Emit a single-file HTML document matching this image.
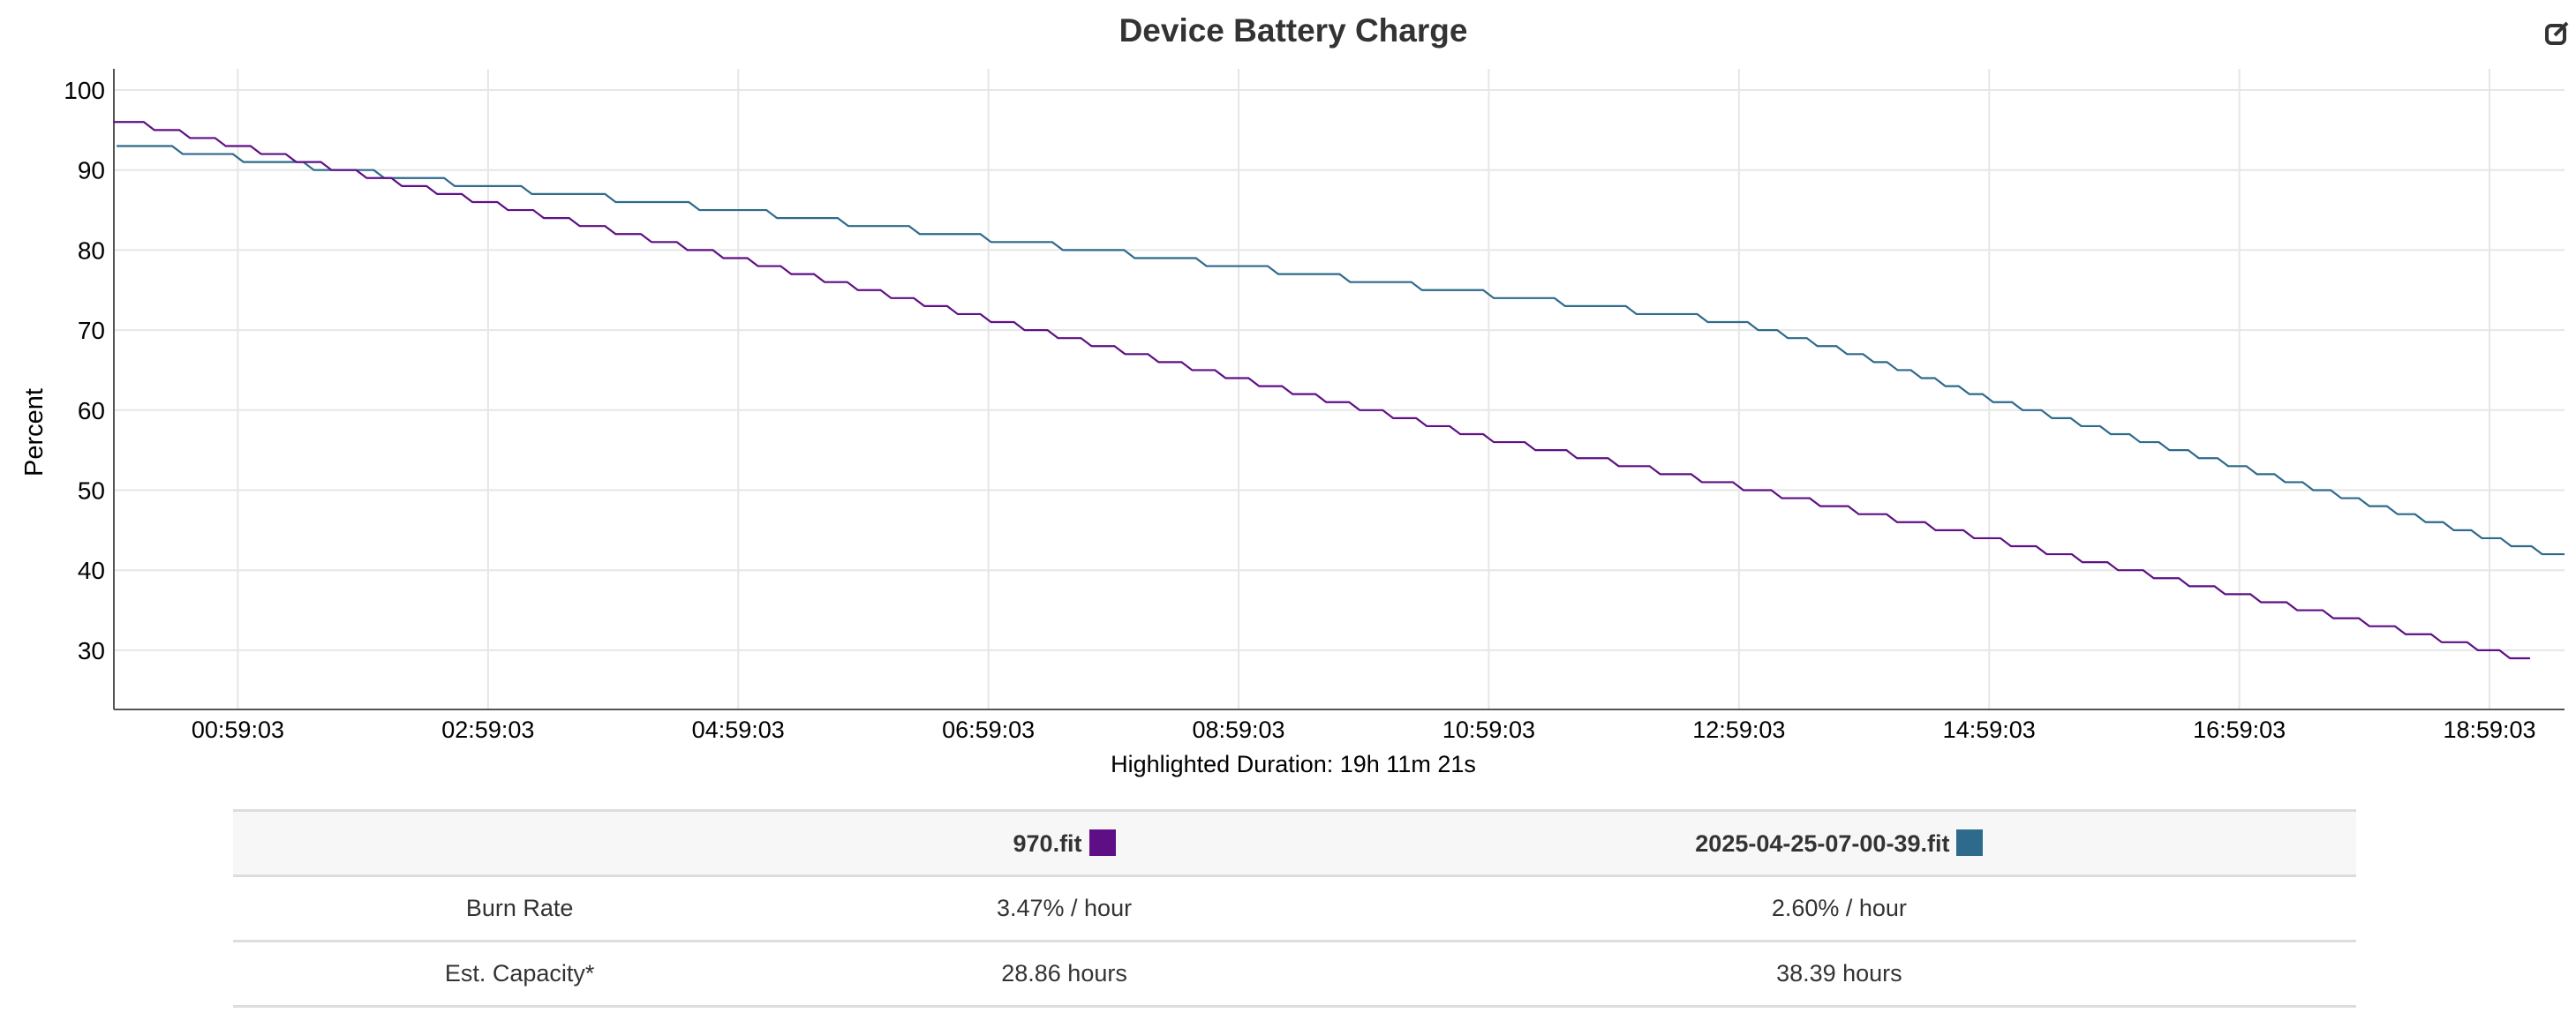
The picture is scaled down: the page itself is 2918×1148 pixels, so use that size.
<!DOCTYPE html>
<html><head><meta charset="utf-8"><style>
html,body{margin:0;padding:0;background:#fff;}
body{width:2918px;height:1148px;position:relative;overflow:hidden;font-family:"Liberation Sans",Arial,sans-serif;color:#333;}
.abs{position:absolute;}
table{position:absolute;left:264px;top:917px;width:2405px;border-collapse:collapse;font-size:27px;color:#333;}
td,th{border-top:3px solid #ddd;border-bottom:3px solid #ddd;text-align:center;height:71px;padding:0;}
th{background:#f7f7f7;font-weight:bold;}
.sw{display:inline-block;width:30px;height:30px;vertical-align:-5px;margin-left:8px;}
</style></head><body>
<div class="abs" style="left:0;width:2930px;top:14px;text-align:center;font-size:37px;font-weight:bold;color:#333;">Device Battery Charge</div>
<svg class="abs" style="left:2882px;top:22px" width="32" height="32" viewBox="0 0 32 32"><rect x="3" y="7" width="20" height="20" rx="5" fill="none" stroke="#333" stroke-width="4"/><path d="M12 18 L26 4" stroke="#333" stroke-width="4"/></svg>
<svg id="c" class="abs" style="left:0;top:0" width="2918" height="900"></svg>
<div class="abs" style="left:0;width:2930px;top:851px;text-align:center;font-size:27px;color:#000;">Highlighted Duration: 19h 11m 21s</div>
<table>
<tr><th style="width:27%"></th><th style="width:24.3%">970.fit<span class="sw" style="background:#5f0f86"></span></th><th>2025-04-25-07-00-39.fit<span class="sw" style="background:#2e6a8c"></span></th></tr>
<tr><td>Burn Rate</td><td>3.47% / hour</td><td>2.60% / hour</td></tr>
<tr><td>Est. Capacity*</td><td>28.86 hours</td><td>38.39 hours</td></tr>
</table>
<script>
var s='',L=129,R=2905,T=78,B=804,K=1.861;
function y(v){return 102+(100-v)*9.07;}
function x(h){return 130+h*141.7;}
for(var v=30;v<=100;v+=10){s+='<line x1="'+L+'" x2="'+R+'" y1="'+y(v)+'" y2="'+y(v)+'" stroke="#e6e6e6" stroke-width="2"/>';
s+='<text x="119" y="'+(y(v)+10)+'" font-size="28" text-anchor="end" fill="#000">'+v+'</text>';}
for(var i=0;i<10;i++){var h=0.984+2*i,xx=x(h);var lab=('0'+(2*i)).slice(-2)+':59:03';
s+='<line x1="'+xx+'" x2="'+xx+'" y1="'+T+'" y2="'+B+'" stroke="#e6e6e6" stroke-width="2"/>';
s+='<text x="'+xx+'" y="836" font-size="27" text-anchor="middle" fill="#000">'+lab+'</text>';}
s+='<line x1="'+L+'" x2="'+L+'" y1="'+T+'" y2="'+B+'" stroke="#555" stroke-width="2"/>';
s+='<line x1="'+L+'" x2="'+R+'" y1="'+B+'" y2="'+B+'" stroke="#555" stroke-width="2"/>';
s+='<text transform="translate(48,490) rotate(-90)" font-size="29" text-anchor="middle" fill="#000">Percent</text>';
function series(pts,v0,v1,col){
 var x0=pts[0][0]*K,x1=pts[pts.length-1][0]*K;
 function xat(val){for(var j=0;j<pts.length-1;j++){var a=pts[j],b=pts[j+1];if(val<=a[1]&&val>=b[1]){return K*(a[0]+(b[0]-a[0])*(a[1]-val)/(a[1]-b[1]));}}return x1;}
 var d='M'+x0+' '+y(v0);
 for(var v=v0;v>v1;v--){var xs=xat(v-0.5)-6;if(xs<x0)xs=x0;d+=' L'+xs+' '+y(v)+' L'+(xs+12)+' '+y(v-1);}
 d+=' L'+x1+' '+y(v1);return '<path d="'+d+'" fill="none" stroke="'+col+'" stroke-width="2.2"/>';}
s+=series([[71,93.5],[145,91.5],[295,88],[448,85],[600,81.5],[753,78],[906,74.5],[1058,71],[1130,67],[1210,61.5],[1362,53],[1516,44],[1561,41.6]],93,42,'#2e6a8c');
s+=series([[69,96.5],[145,93],[295,86],[448,79],[600,71.5],[753,64],[906,56.5],[1058,50.5],[1210,44],[1362,37],[1516,30],[1540,28.6]],96,29,'#5f0f86');
document.getElementById('c').innerHTML=s;
</script>
</body></html>
